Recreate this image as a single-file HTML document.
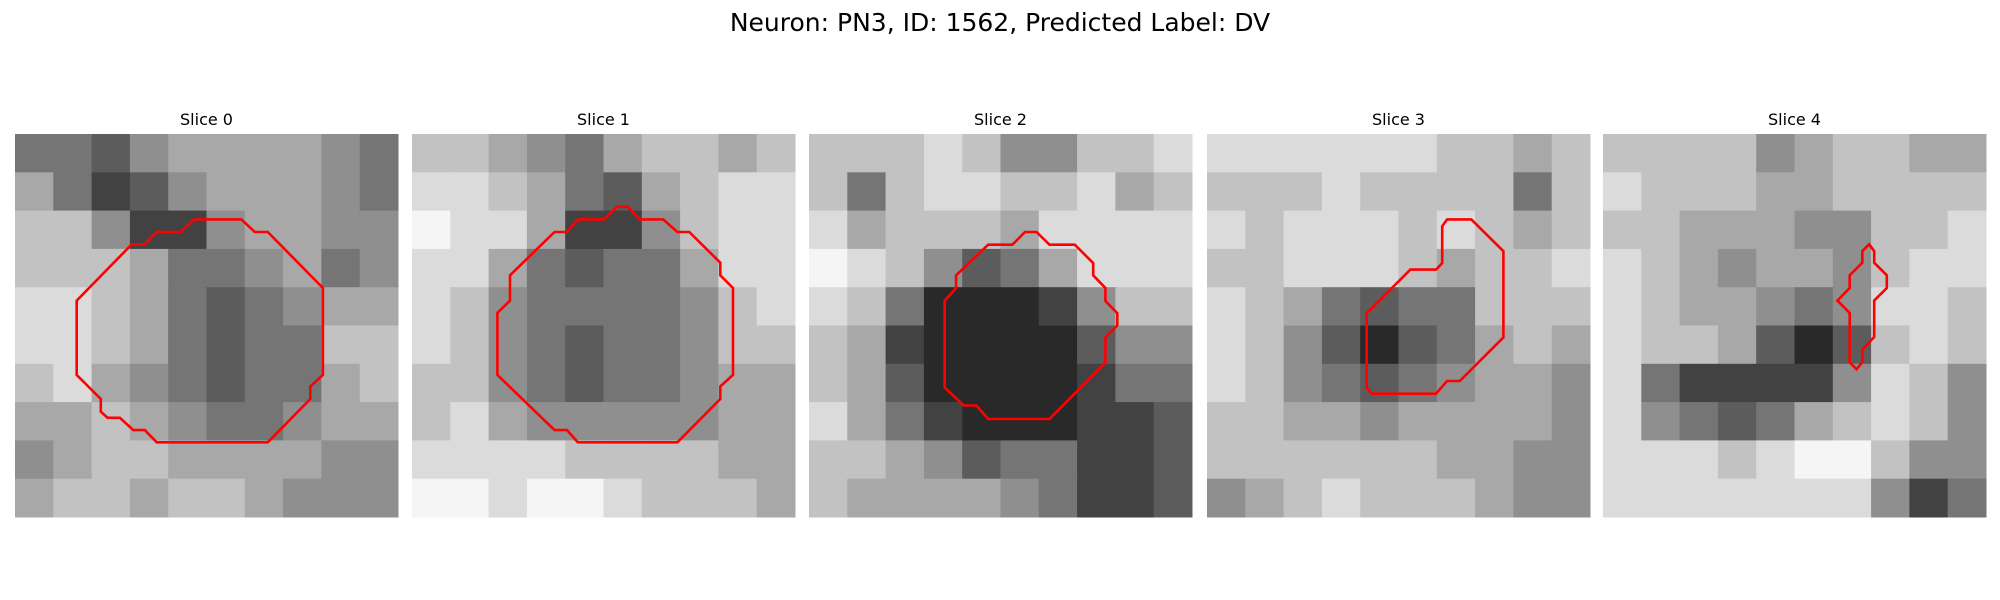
<!DOCTYPE html>
<html><head><meta charset="utf-8">
<style>
html,body{margin:0;padding:0;background:#fff;}
svg{display:block;font-family:"DejaVu Sans","Liberation Sans",sans-serif;}
</style></head>
<body>
<svg id="fig" width="2000" height="600">
<text x="1000" y="31" text-anchor="middle" font-size="25" fill="#000">Neuron: PN3, ID: 1562, Predicted Label: DV</text>
</svg>
<script>
const sliceTitles = ["Slice 0","Slice 1","Slice 2","Slice 3","Slice 4"];
const grid0 = [
[4,4,3,5,6,6,6,6,5,4],[6,4,2,3,5,6,6,6,5,4],[7,7,5,2,2,5,6,6,5,5],[7,7,7,6,4,4,5,6,4,5],
[8,8,7,6,4,3,4,5,6,6],[8,8,7,6,4,3,4,4,7,7],[7,8,6,5,4,3,4,4,6,7],[6,6,7,6,5,4,4,5,6,6],
[5,6,7,7,6,6,6,6,5,5],[6,7,7,6,7,7,6,5,5,5]];
const grid1 = [
[7,7,6,5,4,6,7,7,6,7],[8,8,7,6,4,3,6,7,8,8],[9,8,8,6,2,2,5,7,8,8],[8,8,6,4,3,4,4,6,8,8],
[8,7,5,4,4,4,4,5,7,8],[8,7,5,4,3,4,4,5,7,7],[7,7,5,4,3,4,4,5,6,6],[7,8,6,5,5,5,5,5,6,6],
[8,8,8,8,7,7,7,7,6,6],[9,9,8,9,9,8,7,7,7,6]];
const grid2 = [
[7,7,7,8,7,5,5,7,7,8],[7,4,7,8,8,7,7,8,6,7],[8,6,7,7,7,6,8,8,8,8],[9,8,7,5,3,4,6,8,8,8],
[8,7,4,1,1,1,2,5,7,7],[7,6,2,1,1,1,1,3,5,5],[7,6,3,1,1,1,1,2,4,4],[8,6,4,2,1,1,1,2,2,3],
[7,7,6,5,3,4,4,2,2,3],[7,6,6,6,6,5,4,2,2,3]];
const grid3 = [
[8,8,8,8,8,8,7,7,6,7],[7,7,7,8,7,7,7,7,4,7],[8,7,8,8,8,7,8,7,6,7],[7,7,8,8,8,7,6,7,7,8],
[8,7,6,4,3,4,4,7,7,7],[8,7,5,3,1,3,4,6,7,6],[8,7,5,4,3,4,5,6,6,5],[7,7,6,6,5,6,6,6,6,5],
[7,7,7,7,7,7,6,6,5,5],[5,6,7,8,7,7,7,6,5,5]];
const grid4 = [
[7,7,7,7,5,6,7,7,6,6],[8,7,7,7,6,6,7,7,7,7],[7,7,6,6,6,5,5,7,7,8],[8,7,6,5,6,6,5,7,8,8],
[8,7,6,6,5,4,5,8,8,7],[8,7,7,6,3,1,3,7,8,7],[8,4,2,2,2,2,5,8,7,5],[8,5,4,3,4,6,7,8,7,5],
[8,8,8,7,8,9,9,7,5,5],[8,8,8,8,8,8,8,5,2,4]];
const contour0 = [[.467,.223],[.591,.223],[.626,.256],[.660,.256],[.804,.402],[.804,.629],[.771,.659],[.771,.692],[.660,.805],[.370,.805],[.339,.773],[.309,.773],[.274,.741],[.242,.741],[.224,.725],[.224,.692],[.161,.629],[.161,.435],[.305,.288],[.339,.288],[.370,.256],[.433,.256]];
const contour1 = [[.535,.190],[.563,.190],[.594,.223],[.656,.223],[.693,.256],[.724,.256],[.805,.336],[.805,.369],[.838,.402],[.838,.629],[.805,.659],[.805,.692],[.693,.805],[.433,.805],[.405,.773],[.372,.773],[.223,.629],[.223,.467],[.256,.435],[.256,.369],[.372,.256],[.405,.256],[.433,.223],[.501,.223]];
const contour2 = [[.564,.256],[.594,.256],[.628,.289],[.694,.289],[.742,.337],[.742,.369],[.774,.402],[.774,.436],[.805,.468],[.805,.500],[.774,.531],[.774,.597],[.628,.744],[.468,.744],[.437,.709],[.404,.709],[.354,.662],[.354,.436],[.384,.402],[.384,.369],[.468,.289],[.531,.289]];
const contour3 = [[.627,.223],[.690,.223],[.774,.306],[.774,.531],[.660,.645],[.627,.645],[.598,.678],[.430,.678],[.417,.662],[.417,.468],[.531,.354],[.598,.354],[.614,.337],[.614,.241]];
const contour4 = [[.695,.288],[.708,.306],[.708,.336],[.741,.369],[.741,.402],[.708,.435],[.708,.530],[.677,.563],[.677,.596],[.662,.614],[.644,.596],[.644,.467],[.612,.435],[.644,.402],[.644,.369],[.677,.336],[.677,.306]];

const grids=[grid0,grid1,grid2,grid3,grid4];
const contours=[contour0,contour1,contour2,contour3,contour4];
const panelX=[15,412,809,1207,1603];
const panelY=134, panelS=383;
const NS="http://www.w3.org/2000/svg";
const svg=document.getElementById('fig');
function gray(v){const g=Math.round(15+v/9*230);return `rgb(${g},${g},${g})`;}
grids.forEach((grid,p)=>{
  const g=document.createElementNS(NS,'g');
  
  
  svg.appendChild(g);
  const t=document.createElementNS(NS,'text');
  t.setAttribute('x',panelX[p]+panelS/2);t.setAttribute('y',125);
  t.setAttribute('text-anchor','middle');t.setAttribute('font-size','16');
  t.textContent=sliceTitles[p];
  
  
  g.appendChild(t);
  const n=grid.length,c=panelS/n;
  grid.forEach((row,r)=>row.forEach((v,k)=>{
    const rc=document.createElementNS(NS,'rect');
    rc.setAttribute('x',(panelX[p]+k*c).toFixed(2));rc.setAttribute('y',(panelY+r*c).toFixed(2));
    rc.setAttribute('width',(c+0.5).toFixed(2));rc.setAttribute('height',(c+0.5).toFixed(2));
    rc.setAttribute('fill',gray(v));
    
    
    g.appendChild(rc);
  }));
  const pl=document.createElementNS(NS,'polygon');
  pl.setAttribute('points',contours[p].map(q=>(panelX[p]+q[0]*panelS).toFixed(1)+','+(panelY+q[1]*panelS).toFixed(1)).join(' '));
  pl.setAttribute('fill','none');pl.setAttribute('stroke','#ff0000');pl.setAttribute('stroke-width','2.6');
  
  
  g.appendChild(pl);
});
</script>
</body></html>
